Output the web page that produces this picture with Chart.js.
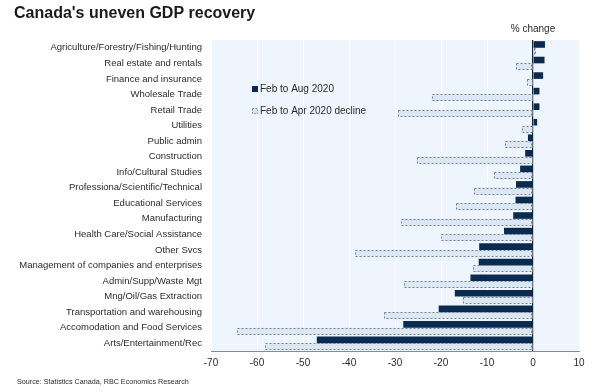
<!DOCTYPE html>
<html>
<head>
<meta charset="utf-8">
<script src="https://cdn.jsdelivr.net/npm/chart.js@4"></script>
<style>
  html, body { margin: 0; padding: 0; background: #fff; }
  #wrap { width: 600px; height: 391px; position: relative; }
</style>
</head>
<body>
<div id="wrap"><canvas id="chart" width="600" height="391"></canvas></div>
<script>
var sectors = [
    'Agriculture/Forestry/Fishing/Hunting', 'Real estate and rentals', 'Finance and insurance',
    'Wholesale Trade', 'Retail Trade', 'Utilities', 'Public admin', 'Construction',
    'Info/Cultural Studies', 'Professiona/Scientific/Technical', 'Educational Services',
    'Manufacturing', 'Health Care/Social Assistance', 'Other Svcs',
    'Management of companies and enterprises', 'Admin/Supp/Waste Mgt', 'Mng/Oil/Gas Extraction',
    'Transportation and warehousing', 'Accomodation and Food Services', 'Arts/Entertainment/Rec'
];
var febToAug = [2.6, 2.5, 2.2, 1.4, 1.4, 0.9, -1.1, -1.7, -2.8, -3.7, -3.8, -4.3, -6.3, -11.7, -11.8, -13.6, -17.0, -20.5, -28.2, -47.0];
var febToApr = [0.5, -3.7, -1.4, -22.0, -29.3, -2.5, -6.1, -25.3, -8.5, -12.8, -16.7, -28.6, -19.9, -38.6, -13.0, -28.1, -15.3, -32.3, -64.3, -58.2];
var seriesNames = ['Feb to Aug 2020', 'Feb to Apr 2020 decline'];

var font = 'Liberation Sans';
var textColor = '#2b2b2b';

var decor = {
    id: 'decor',
    beforeDraw: function (chart) {
        var c = chart.ctx, a = chart.chartArea;
        c.save();
        c.fillStyle = '#eef5fc';
        c.fillRect(a.left, a.top, a.right - a.left, a.bottom - a.top);
        c.restore();
    },
    afterDatasetsDraw: function (chart) {
        var c = chart.ctx;
        var meta = chart.getDatasetMeta(1);
        c.save();
        c.strokeStyle = '#6f84a0';
        c.lineWidth = 1;
        c.setLineDash([2, 2]);
        meta.data.forEach(function (bar) {
            var p = bar.getProps(['x', 'y', 'base', 'height'], true);
            var l = Math.min(p.x, p.base), r = Math.max(p.x, p.base);
            c.strokeRect(Math.round(l) + 0.5, Math.round(p.y - p.height / 2) + 0.5,
                Math.round(r - l) - 1, Math.round(p.height) - 1);
        });
        c.restore();
    },
    afterDraw: function (chart) {
        var c = chart.ctx;
        var zx = chart.scales.x.getPixelForValue(0);
        c.save();
        c.fillStyle = '#1a1a1a';
        c.textBaseline = 'middle';
        c.font = 'bold 16px ' + font;
        c.fillText("Canada's uneven GDP recovery", 14, 14);
        c.fillStyle = textColor;
        c.font = '10px ' + font;
        c.textAlign = 'center';
        c.fillText('% change', zx, 29);
        c.textAlign = 'left';
        // legend
        var lx = 252, ly = [89, 111];
        c.fillStyle = '#0a2a4f';
        c.fillRect(lx, ly[0] - 3, 6, 6);
        c.fillStyle = '#dde7f1';
        c.fillRect(lx, ly[1] - 3, 6, 6);
        c.strokeStyle = '#6f84a0';
        c.setLineDash([1.5, 1.5]);
        c.strokeRect(lx + 0.5, ly[1] - 2.5, 5, 5);
        c.setLineDash([]);
        c.fillStyle = textColor;
        c.font = '10px ' + font;
        c.fillText(seriesNames[0], lx + 8, ly[0]);
        c.fillText(seriesNames[1], lx + 8, ly[1]);
        c.font = '7.2px ' + font;
        c.fillText('Source: Statistics Canada, RBC Economics Research', 17, 382);
        c.restore();
    }
};

var ctx = document.getElementById('chart').getContext('2d');
var myChart = new Chart(ctx, {
    type: 'bar',
    data: {
        labels: sectors,
        datasets: [{
            label: seriesNames[0],
            data: febToAug,
            backgroundColor: '#0a2a4f',
            borderWidth: 0
        }, {
            label: seriesNames[1],
            data: febToApr,
            backgroundColor: '#dde7f1',
            borderWidth: 0
        }]
    },
    options: {
        indexAxis: 'y',
        responsive: false,
        animation: false,
        datasets: { bar: { categoryPercentage: 0.85, barPercentage: 1.0 } },
        layout: { padding: { left: 0, top: 40, right: 21, bottom: 20 } },
        plugins: { legend: { display: false }, tooltip: { enabled: false } },
        scales: {
            x: {
                min: -70, max: 10,
                ticks: { stepSize: 10, color: textColor, font: { family: font, size: 10 }, padding: 6 },
                grid: {
                    drawTicks: false,
                    color: function (ctx) { return ctx.tick && ctx.tick.value === 0 ? '#1c2633' : 'rgba(255,255,255,0.9)'; },
                    lineWidth: function (ctx) { return ctx.tick && ctx.tick.value === 0 ? 1.2 : 1; }
                },
                border: { display: true, color: '#8a8a8a', width: 1 },
                afterFit: function (s) { s.height = 20; }
            },
            y: {
                ticks: { color: textColor, font: { family: font, size: 9.5 }, padding: 9, autoSkip: false },
                grid: { display: false, drawTicks: false },
                border: { display: false },
                afterFit: function (s) { s.width = 211; }
            }
        }
    },
    plugins: [decor]
});
</script>
</body>
</html>
